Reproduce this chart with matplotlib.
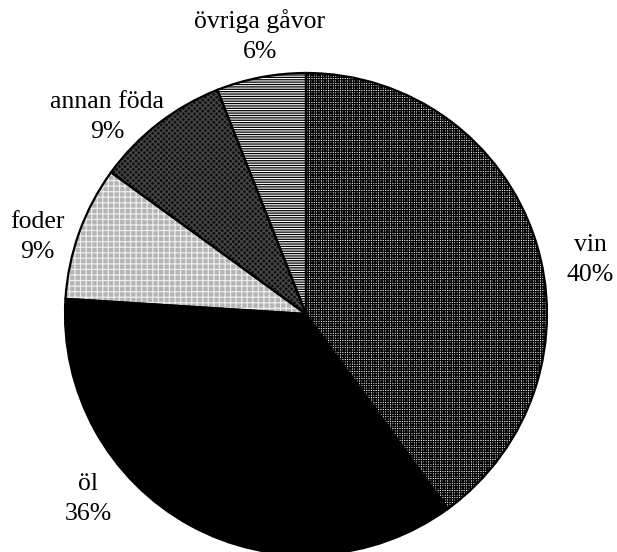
import matplotlib
matplotlib.use('Agg')
import matplotlib.pyplot as plt

# data
categories = ['vin', 'öl', 'foder', 'annan föda', 'övriga gåvor']
shares = [40, 36, 9, 9, 6]

# styling per slice (face colour, hatch, hatch colour)
faces = ['white', 'black', '#b4b4b4', '#101010', 'white']
hatches = ['+++++++', '', '+++', 'xxxxxx', '-------']
hatch_cols = ['black', 'black', '#ececec', '#484848', 'black']

# label centres in pixels (x, y from top)
label_pos = [(590, 260), (88, 499), (37, 237), (107, 117), (260, 36)]

plt.rcParams['font.family'] = ['Liberation Serif', 'DejaVu Serif']
plt.rcParams['hatch.linewidth'] = 0.9

W, H = 617, 552
fig = plt.figure(figsize=(W / 100, H / 100), dpi=100)
ax = fig.add_axes([0, 0, 1, 1])

cx, cy, r = 306, H - 314, 241

# hatched fills
wedges, _ = ax.pie(shares, center=(cx, cy), radius=r, startangle=90,
                   counterclock=False, frame=True)
for w, fc, ht, hc in zip(wedges, faces, hatches, hatch_cols):
    w.set_facecolor(fc)
    w.set_hatch(ht)
    w.set_edgecolor(hc)
    w.set_linewidth(0)

# outlines on top
outl, _ = ax.pie(shares, center=(cx, cy), radius=r, startangle=90,
                 counterclock=False, frame=True,
                 wedgeprops=dict(fill=False, edgecolor='black', linewidth=1.6))

ax.set_xlim(0, W)
ax.set_ylim(0, H)
ax.set_aspect('auto')
ax.axis('off')

for name, val, (px, py) in zip(categories, shares, label_pos):
    ax.text(px, H - py, f'{name}\n{val}%', ha='center', va='center',
            fontsize=18.5, linespacing=1.5, color='black')

fig.savefig('out.png', dpi=100)
